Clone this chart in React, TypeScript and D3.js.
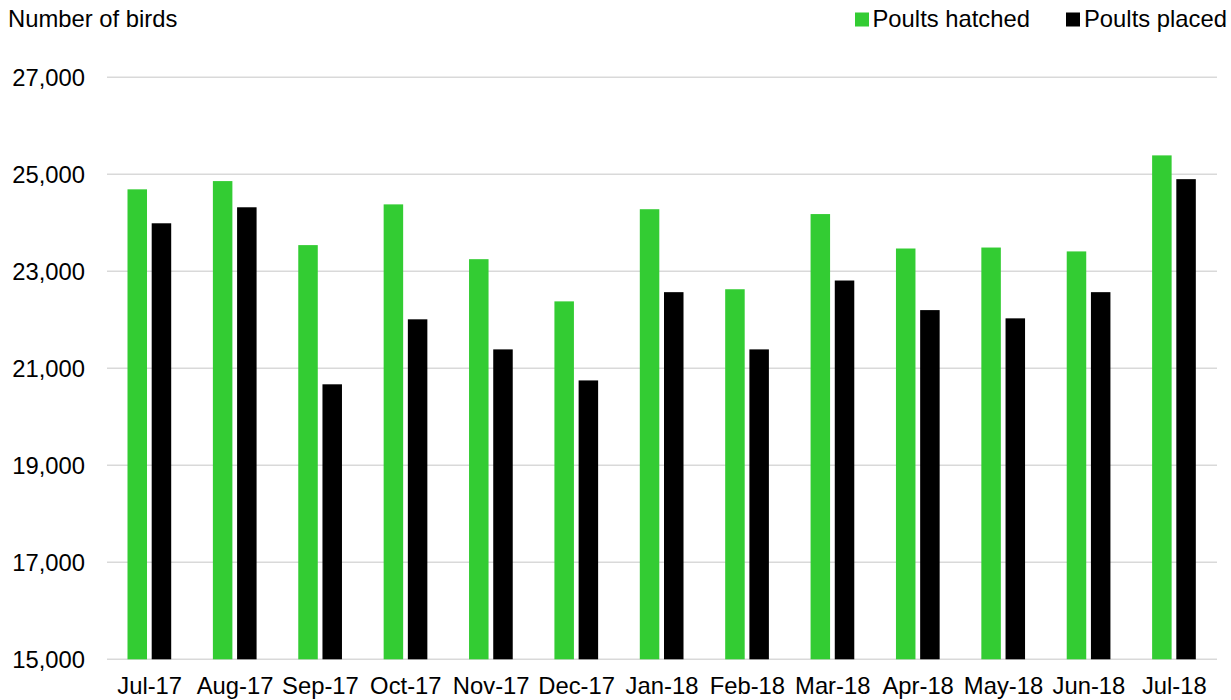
import React from "react";
import * as d3 from "d3";

const categories = ["Jul-17","Aug-17","Sep-17","Oct-17","Nov-17","Dec-17","Jan-18","Feb-18","Mar-18","Apr-18","May-18","Jun-18","Jul-18"];
const poultsHatched = [24690, 24860, 23540, 24380, 23250, 22380, 24280, 22630, 24180, 23470, 23490, 23410, 25390];
const poultsPlaced = [23990, 24320, 20670, 22010, 21390, 20750, 22570, 21390, 22810, 22200, 22030, 22570, 24900];
const yTicks = [15000, 17000, 19000, 21000, 23000, 25000, 27000];
const seriesNames = ["Poults hatched", "Poults placed"];
const seriesColors = ["#33CC33", "#000000"];

const W = 1231, H = 700;
const FONT = "'Liberation Sans', Arial, sans-serif";
const FS = 23.8;

export default function App() {
  const x = d3.scaleBand<string>().domain(categories).range([107, 1217]).padding(0);
  const x1 = d3.scaleBand<string>().domain(seriesNames).range([20.5, 64.2]).paddingInner(0.194).paddingOuter(0);
  const y = d3.scaleLinear().domain([15000, 27000]).range([659.3, 77.3]);
  const fmt = d3.format(",");
  const series = [poultsHatched, poultsPlaced];

  return (
    <svg width={W} height={H} style={{ position: "fixed", left: 0, top: 0, background: "#fff" }} fontFamily={FONT}>
      <text x={8} y={27} fontSize={FS} fill="#000">Number of birds</text>
      {yTicks.map((t) => (
        <g key={t}>
          <line x1={107} x2={1217} y1={y(t)} y2={y(t)} stroke="#d9d9d9" strokeWidth={1.5} />
          <text x={85} y={y(t)} dy="0.36em" textAnchor="end" fontSize={FS} fill="#000">{fmt(t)}</text>
        </g>
      ))}
      {categories.map((c, i) => (
        <g key={c} transform={`translate(${x(c)},0)`}>
          {series.map((s, j) => (
            <rect key={j} x={x1(seriesNames[j])} width={x1.bandwidth()} y={y(s[i])} height={y(15000) - y(s[i])} fill={seriesColors[j]} />
          ))}
          <text x={x.bandwidth() / 2} y={694} textAnchor="middle" fontSize={FS} fill="#000">{c}</text>
        </g>
      ))}
      <g>
        <rect x={855} y={12.5} width={14} height={14} fill={seriesColors[0]} />
        <text x={872.5} y={27} fontSize={FS} fill="#000">{seriesNames[0]}</text>
        <rect x={1066} y={12.5} width={14} height={14} fill={seriesColors[1]} />
        <text x={1084} y={27} fontSize={FS} fill="#000">{seriesNames[1]}</text>
      </g>
    </svg>
  );
}
